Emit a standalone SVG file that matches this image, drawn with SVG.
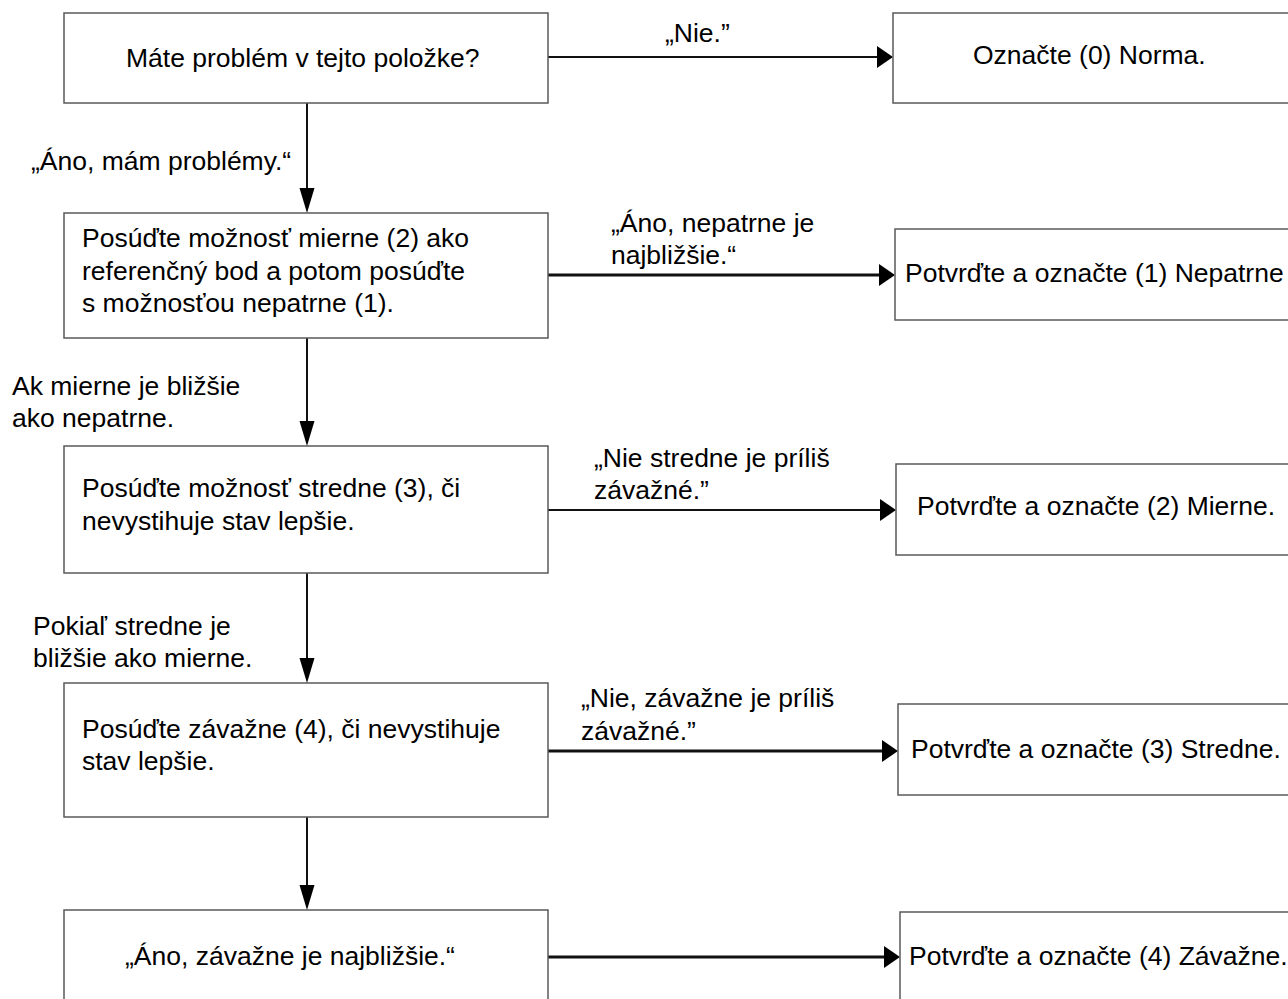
<svg xmlns="http://www.w3.org/2000/svg" width="1288" height="999" viewBox="0 0 1288 999">
<style>
.box{fill:#fff;stroke:#5a5a5a;stroke-width:1.5}
.t{font-family:"Liberation Sans",Arial,sans-serif;font-size:26.5px;fill:#000}
.c{stroke:#111;fill:none}
.thin{stroke-width:2}
.thick{stroke-width:3.2}
</style>
<defs>
<marker id="ah" markerUnits="userSpaceOnUse" markerWidth="17" markerHeight="22" refX="0" refY="11" orient="auto" overflow="visible">
<path d="M0,0 L16,11 L0,22 z" fill="#000"/>
</marker>
<marker id="av" markerUnits="userSpaceOnUse" markerWidth="26" markerHeight="15" refX="0" refY="7.5" orient="auto" overflow="visible">
<path d="M0,0 L25,7.5 L0,15 z" fill="#000"/>
</marker>
</defs>
<rect width="1288" height="999" fill="#fff"/>
<g id="connectors">
<line class="c thin" x1="548" y1="57" x2="877" y2="57" marker-end="url(#ah)"/>
<line class="c thick" x1="548" y1="275" x2="879" y2="275" marker-end="url(#ah)"/>
<line class="c thin" x1="548" y1="510" x2="880" y2="510" marker-end="url(#ah)"/>
<line class="c thick" x1="548" y1="751" x2="882" y2="751" marker-end="url(#ah)"/>
<line class="c thick" x1="548" y1="957" x2="884" y2="957" marker-end="url(#ah)"/>
<line class="c thin" x1="307" y1="103" x2="307" y2="188" marker-end="url(#av)"/>
<line class="c thin" x1="307" y1="338" x2="307" y2="421" marker-end="url(#av)"/>
<line class="c thin" x1="307" y1="573" x2="307" y2="658" marker-end="url(#av)"/>
<line class="c thin" x1="307" y1="817" x2="307" y2="885" marker-end="url(#av)"/>
<text class="t" x="665" y="42">„Nie.”</text>
<text class="t" x="611" y="232">„Áno, nepatrne je</text>
<text class="t" x="611" y="264">najbližšie.“</text>
<text class="t" x="594" y="467">„Nie stredne je príliš</text>
<text class="t" x="594" y="499">závažné.”</text>
<text class="t" x="581" y="707">„Nie, závažne je príliš</text>
<text class="t" x="581" y="740">závažné.”</text>
<text class="t" x="31" y="170">„Áno, mám problémy.“</text>
<text class="t" x="12" y="395">Ak mierne je bližšie</text>
<text class="t" x="12" y="427">ako nepatrne.</text>
<text class="t" x="33" y="635">Pokiaľ stredne je</text>
<text class="t" x="33" y="667">bližšie ako mierne.</text>
</g>
<g id="n1">
<rect class="box" x="64" y="13" width="484" height="90"/>
<text class="t" x="126" y="67">Máte problém v tejto položke?</text>
</g>
<g id="n2">
<rect class="box" x="64" y="213" width="484" height="125"/>
<text class="t" x="82" y="247">Posúďte možnosť mierne (2) ako</text>
<text class="t" x="82" y="280">referenčný bod a potom posúďte</text>
<text class="t" x="82" y="312">s možnosťou nepatrne (1).</text>
</g>
<g id="n3">
<rect class="box" x="64" y="446" width="484" height="127"/>
<text class="t" x="82" y="497">Posúďte možnosť stredne (3), či</text>
<text class="t" x="82" y="530">nevystihuje stav lepšie.</text>
</g>
<g id="n4">
<rect class="box" x="64" y="683" width="484" height="134"/>
<text class="t" x="82" y="738">Posúďte závažne (4), či nevystihuje</text>
<text class="t" x="82" y="770">stav lepšie.</text>
</g>
<g id="n5">
<rect class="box" x="64" y="910" width="484" height="120"/>
<text class="t" x="125" y="965">„Áno, závažne je najbližšie.“</text>
</g>
<g id="r0">
<rect class="box" x="893" y="13" width="420" height="90"/>
<text class="t" x="973" y="64">Označte (0) Norma.</text>
</g>
<g id="r1">
<rect class="box" x="895" y="229" width="420" height="91"/>
<text class="t" x="905" y="282">Potvrďte a označte (1) Nepatrne</text>
</g>
<g id="r2">
<rect class="box" x="896" y="464" width="420" height="91"/>
<text class="t" x="917" y="515">Potvrďte a označte (2) Mierne.</text>
</g>
<g id="r3">
<rect class="box" x="898" y="704" width="420" height="91"/>
<text class="t" x="911" y="758">Potvrďte a označte (3) Stredne.</text>
</g>
<g id="r4">
<rect class="box" x="900" y="912" width="420" height="120"/>
<text class="t" x="909" y="965">Potvrďte a označte (4) Závažne.</text>
</g>
</svg>
